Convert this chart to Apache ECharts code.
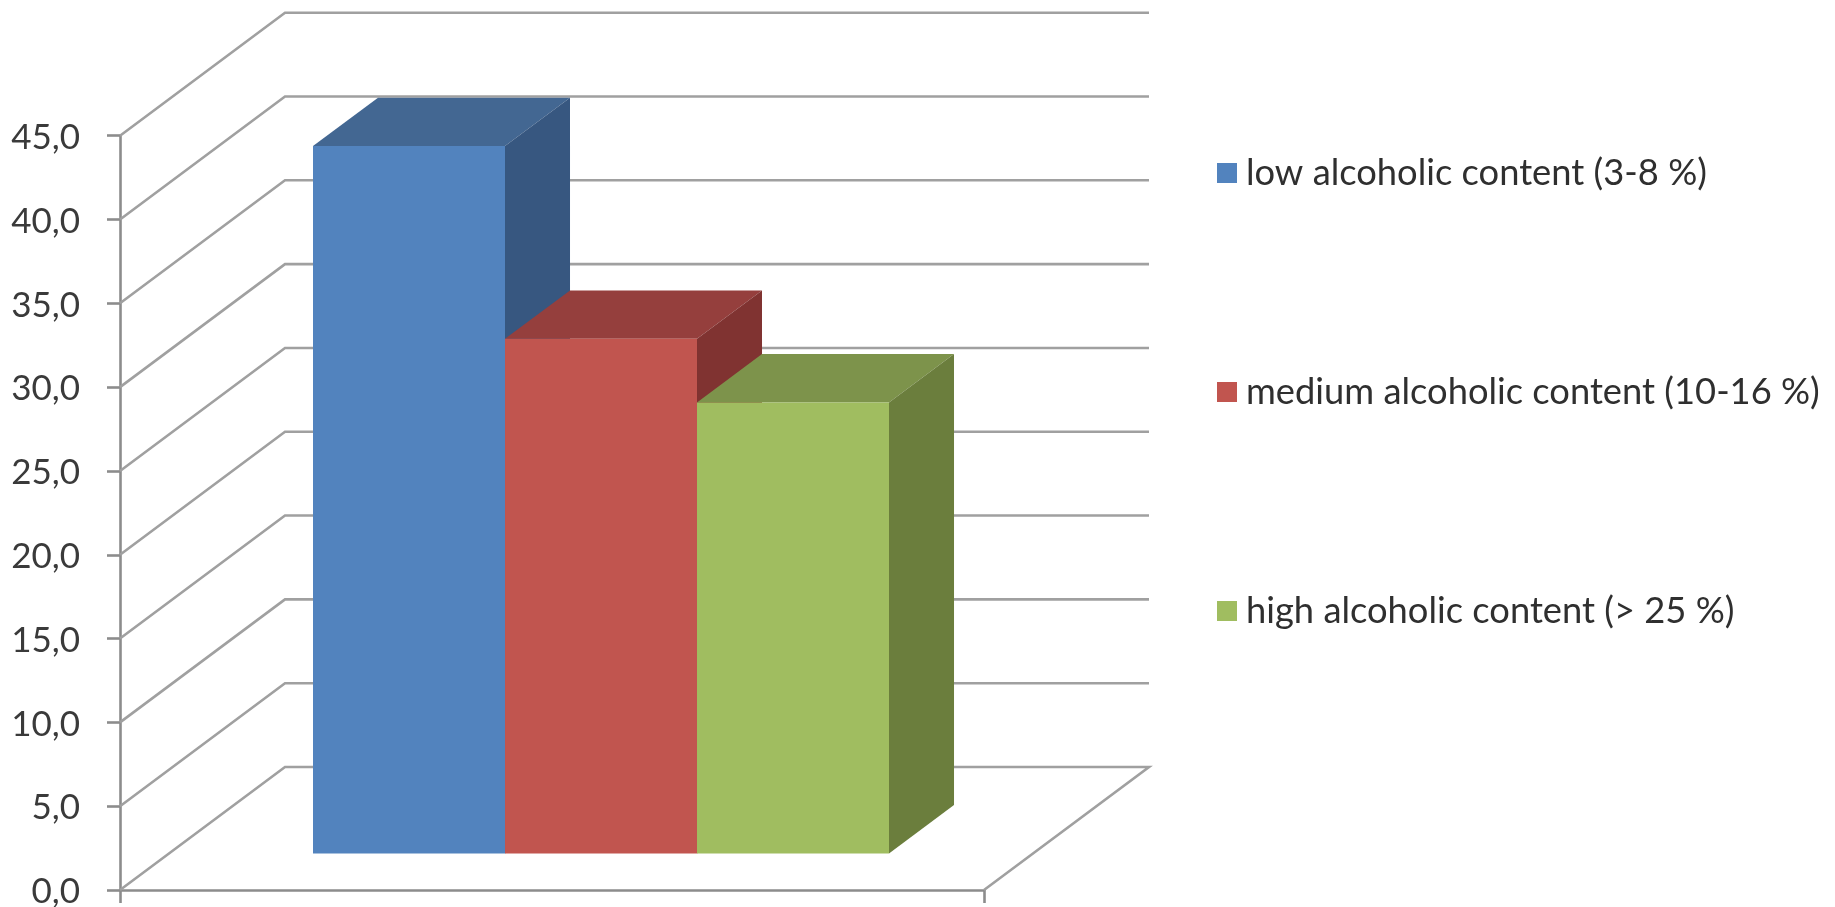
<!DOCTYPE html>
<html>
<head>
<meta charset="utf-8">
<style>html,body{margin:0;padding:0;background:#fff}#chart{width:1835px;height:907px}</style>
<script src="https://cdn.jsdelivr.net/npm/echarts@6/dist/echarts.min.js"></script>
</head>
<body>
<div id="chart"></div>
<script>
// Share of consumption by beverage strength, drawn as a pseudo-3D column chart.
const seriesNames = ['low alcoholic content (3-8 %)', 'medium alcoholic content (10-16 %)', 'high alcoholic content (> 25 %)'];
const seriesValues = [42.2, 30.7, 26.9];
const yTicks = [0, 5, 10, 15, 20, 25, 30, 35, 40, 45];
const categories = [''];

const frontColors = ['#5283BE', '#C1554F', '#A0BD60'];
const topColors = ['#436792', '#953F3D', '#7D934B'];
const sideColors = ['#375780', '#803331', '#6B7E3D'];

// Oblique projection: how far the box floor recedes, and where the columns sit in it.
const DEPTH_X = 165, DEPTH_Y = -123;
const BAR_NEAR = 0.297, BAR_FAR = 0.691;
const GAP_WIDTH = 1.5;
const WALL_COLOR = '#a0a0a0', AXIS_COLOR = '#8c8c8c';

function wallItem(params, api) {
  const cs = params.coordSys;
  const p = api.coord([0, api.value(1)]);
  const backX = cs.x + DEPTH_X, backY = p[1] + DEPTH_Y;
  const pts = [[cs.x, p[1]], [backX, backY], [cs.x + cs.width + DEPTH_X, backY]];
  if (api.value(1) === 0) {
    pts.push([cs.x + cs.width, p[1]]);
  }
  return { type: 'polyline', silent: true, shape: { points: pts },
    style: { fill: null, stroke: WALL_COLOR, lineWidth: 2.6 } };
}

function columnItem(index) {
  return function (params, api) {
    const cs = params.coordSys;
    const barW = cs.width / (seriesValues.length + GAP_WIDTH);
    const base = api.coord([0, 0]);
    const top = api.coord([0, api.value(1)]);
    const x0 = cs.x + barW * (GAP_WIDTH / 2 + index) + DEPTH_X * BAR_NEAR;
    const x1 = x0 + barW;
    const yTop = top[1] + DEPTH_Y * BAR_NEAR;
    const yBase = base[1] + DEPTH_Y * BAR_NEAR;
    const dx = DEPTH_X * (BAR_FAR - BAR_NEAR), dy = DEPTH_Y * (BAR_FAR - BAR_NEAR);
    return { type: 'group', children: [
      { type: 'polygon', shape: { points: [[x0, yTop], [x1, yTop], [x1 + dx, yTop + dy], [x0 + dx, yTop + dy]] },
        style: { fill: topColors[index] } },
      { type: 'polygon', shape: { points: [[x1, yTop], [x1 + dx, yTop + dy], [x1 + dx, yBase + dy], [x1, yBase]] },
        style: { fill: sideColors[index] } },
      { type: 'polygon', shape: { points: [[x0, yTop], [x1, yTop], [x1, yBase], [x0, yBase]] },
        style: { fill: frontColors[index] } }
    ] };
  };
}

const option = {
  animation: false,
  backgroundColor: '#fff',
  grid: { left: 120, right: 851, top: 135.7, bottom: 17, outerBoundsMode: 'none' },
  legend: {
    data: seriesNames,
    orient: 'vertical',
    left: 1212,
    top: 150,
    icon: 'rect',
    itemWidth: 20,
    itemHeight: 20,
    itemGap: 183,
    textStyle: { fontFamily: 'Lato', fontSize: 36.3, color: '#2f2f2f', lineHeight: 36, padding: [0, 0, 0, 4] }
  },
  xAxis: {
    type: 'category',
    data: categories,
    axisLine: { lineStyle: { color: AXIS_COLOR, width: 2.6 } },
    axisTick: { show: true, length: 13, lineStyle: { color: AXIS_COLOR, width: 2.6 } },
    axisLabel: { show: false }
  },
  yAxis: {
    type: 'value',
    min: 0,
    max: 45,
    interval: 5,
    axisLine: { show: true, lineStyle: { color: AXIS_COLOR, width: 2.6 } },
    axisTick: { show: true, length: 13, lineStyle: { color: AXIS_COLOR, width: 2.6 } },
    splitLine: { show: false },
    axisLabel: {
      margin: 40,
      formatter: v => '{tick|' + v.toFixed(1).replace('.', ',') + '}',
      rich: {
        tick: { fontFamily: 'Lato', fontSize: 35, color: '#3a3a3a', padding: [4, 0, 0, 0] }
      }
    }
  },
  series: [
    { type: 'custom', name: 'walls', z: 1, silent: true, renderItem: wallItem,
      encode: { x: 0, y: 1 }, data: yTicks.map(v => [0, v]) }
  ].concat(seriesNames.map((name, i) => ({
    type: 'custom', name, z: 2 + i, silent: true, renderItem: columnItem(i),
    itemStyle: { color: frontColors[i] },
    encode: { x: 0, y: 1 }, data: [[0, seriesValues[i]]]
  })))
};

echarts.init(document.getElementById('chart')).setOption(option);
</script>
</body>
</html>
